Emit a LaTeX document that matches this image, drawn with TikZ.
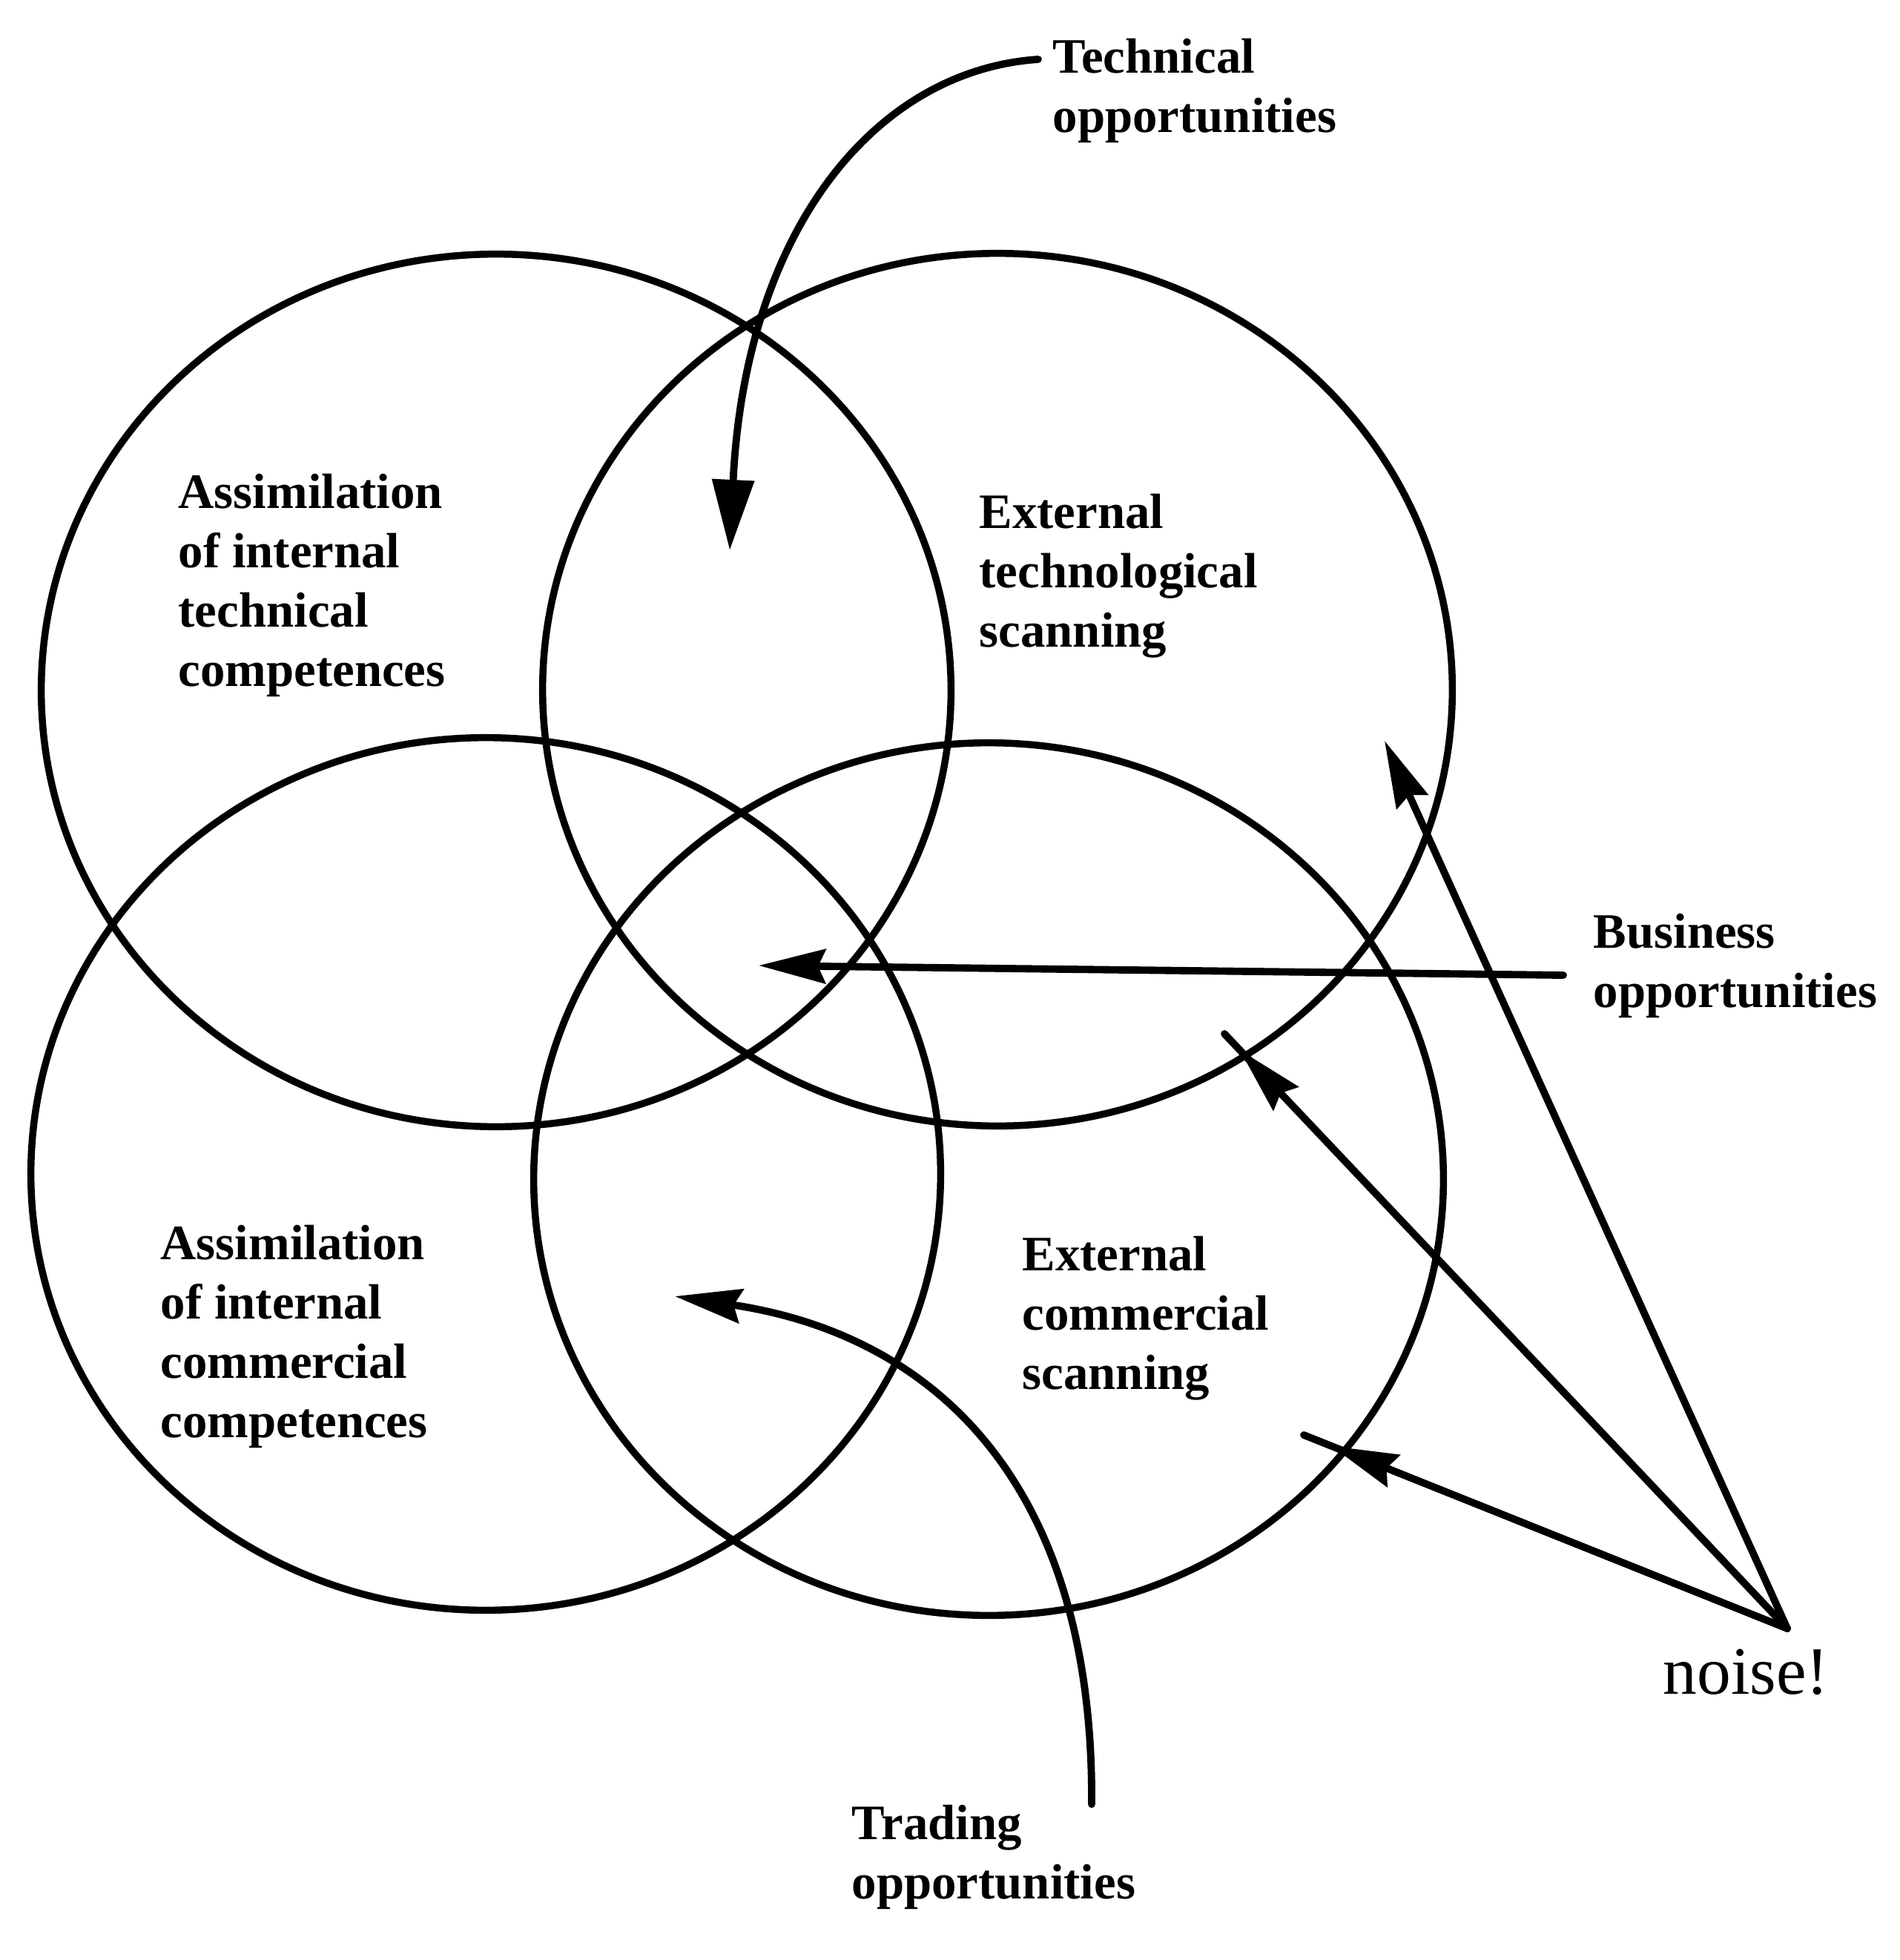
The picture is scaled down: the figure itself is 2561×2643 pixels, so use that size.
\documentclass[tikz,border=0pt]{standalone}
\usepackage{fontspec}
\setmainfont{Liberation Serif}
\usetikzlibrary{arrows.meta,shapes.geometric,decorations.markings}

\tikzset{
  >={Stealth[length=0.9cm,width=0.46cm,inset=0.1cm]},
  area/.style={draw, ellipse, line width=2.7pt, minimum width=12.26cm,
               minimum height=11.76cm, inner sep=0pt},
  lbl/.style={anchor=north west, align=left, inner sep=0pt,
              font=\fontsize{19pt}{22.8pt}\selectfont\bfseries},
  flow/.style={line width=2.8pt, line cap=round},
  wedge/.style={-{Triangle[length=0.95cm,width=0.55cm]}},
  tipat/.style={postaction={decorate},
                decoration={markings, mark=at position #1 with {\arrow{>}}}},
}

\begin{document}
\begin{tikzpicture}[x=0.01cm,y=-0.01cm]
\useasboundingbox (0,0) rectangle (2561,2643);

% the four overlapping areas
\node[area] (tl) at (669,931) {};
\node[area] (tr) at (1345,930) {};
\node[area] (bl) at (655,1583) {};
\node[area] (br) at (1333,1590) {};

% area labels
\node[lbl] (tltext) at (240,638) {Assimilation\\of internal\\technical\\competences};
\node[lbl] (trtext) at (1320,665) {External\\technological\\scanning};
\node[lbl] (bltext) at (216,1651) {Assimilation\\of internal\\commercial\\competences};
\node[lbl] (brtext) at (1378,1666) {External\\commercial\\scanning};

% sources
\node[lbl] (tech) at (1419,51) {Technical\\opportunities};
\node[lbl] (business) at (2148,1231) {Business\\opportunities};
\node[lbl] (trading) at (1148,2433) {Trading\\opportunities};
\node[anchor=north west, inner sep=0pt, font=\fontsize{26pt}{30pt}\selectfont]
  (noise) at (2242,2223) {noise!};

% connector end points
\coordinate (techstart) at (1400,80);
\coordinate (techend) at (984,742);
\coordinate (busstart) at (2108,1315);
\coordinate (busend) at (1023,1302);
\coordinate (tradestart) at (1472,2433);
\coordinate (tradeend) at (910,1748);
\coordinate (noisept) at (2410,2196);
\coordinate (noiseA) at (1867,999);
\coordinate (noiseB) at (1651,1394);
\coordinate (noiseC) at (1758,1935);

% flows into the areas
\draw[flow, wedge] (techstart) .. controls (1180,95) and (1005,310) .. (techend);
\draw[flow, ->] (busstart) -- (busend);
\draw[flow, ->] (tradestart) .. controls (1475,2000) and (1260,1800) .. (tradeend);
\draw[flow, ->] (noisept) -- (noiseA);
\draw[flow, tipat=-0.3cm] (noisept) -- (noiseB);
\draw[flow, tipat=-0.4cm] (noisept) -- (noiseC);
\end{tikzpicture}
\end{document}
